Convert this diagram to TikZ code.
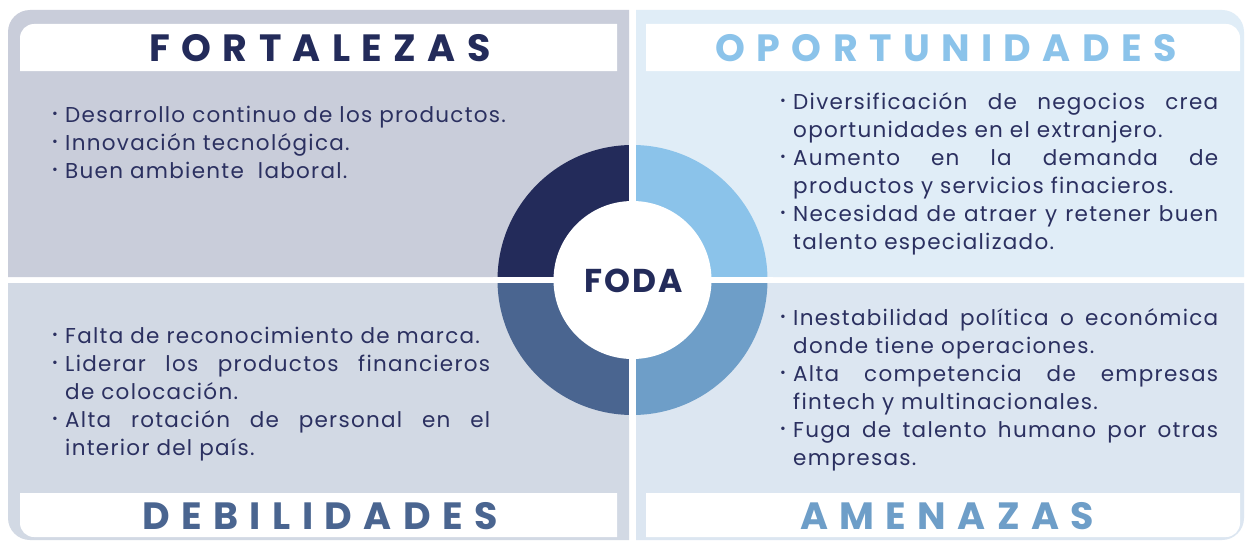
\documentclass[tikz,border=0pt]{standalone}
\usepackage{fontspec}
\setmainfont{Poppins}[LetterSpace=6]
\newfontfamily\titlefont[LetterSpace=30]{Poppins}
\newfontfamily\fodafont[LetterSpace=6]{Poppins}
\definecolor{cTL}{HTML}{232B5A}
\definecolor{cTR}{HTML}{8BC3EA}
\definecolor{cBL}{HTML}{4A6590}
\definecolor{cBR}{HTML}{6E9EC8}
\definecolor{pTL}{HTML}{C9CDDA}
\definecolor{pTR}{HTML}{E0EDF7}
\definecolor{pBL}{HTML}{D2D9E4}
\definecolor{pBR}{HTML}{DCE6F1}
\definecolor{txt}{HTML}{2B3060}
\newcommand{\itm}[1]{\hangindent=13pt\hangafter=1\noindent\makebox[13pt][l]{\raisebox{4pt}{\fontsize{14}{14}\selectfont\textbullet}}#1\par}
\tikzset{
  body/.style={anchor=north west, inner sep=0pt, text=txt, font=\fontsize{21.5}{28}\selectfont, align=justify},
  ttl/.style={font=\titlefont\bfseries\fontsize{38}{40}\selectfont, inner sep=0pt},
}
\begin{document}
\begin{tikzpicture}[x=1pt,y=-1pt]
\useasboundingbox (0,0) rectangle (1246,543);
\fill[white] (0,0) rectangle (1246,543);
% panels
\fill[pTL] (8,277) [rounded corners=22] -- (8,10) [sharp corners] -- (629,10) -- (629,277) -- cycle;
\fill[pTR] (636,10) [rounded corners=22] -- (1244,10) [sharp corners] -- (1244,277) -- (636,277) -- cycle;
\fill[pBL] (8,283) [rounded corners=22] -- (8,540) [sharp corners] -- (629,540) -- (629,283) -- cycle;
\fill[pBR] (636,283) -- (1244,283) [rounded corners=22] -- (1244,540) [sharp corners] -- (636,540) -- cycle;
% title boxes
\fill[white] (20,71) [rounded corners=14] -- (20,24) [sharp corners] -- (617,24) -- (617,71) -- cycle;
\fill[white] (646,24) [rounded corners=14] -- (1240,24) [sharp corners] -- (1240,71) -- (646,71) -- cycle;
\fill[white] (20,493) [rounded corners=14] -- (20,537) [sharp corners] -- (617,537) -- (617,493) -- cycle;
\fill[white] (646,493) -- (1240,493) [rounded corners=14] -- (1240,537) [sharp corners] -- (646,537) -- cycle;
\node[ttl, text=cTL] (tF) at (320,48) {FORTALEZAS};
\node[ttl, text=cTR] (tO) at (946,48) {OPORTUNIDADES};
\node[ttl, text=cBL] (tD) at (320,516) {DEBILIDADES};
\node[ttl, text=cBR] (tA) at (947,516) {AMENAZAS};
% ring
\begin{scope}[shift={(632.5,280)},x=1pt,y=1pt]
\fill[cTL] (0,0) -- (180:135) arc[start angle=180,end angle=90,radius=135] -- cycle;
\fill[cTR] (0,0) -- (90:135) arc[start angle=90,end angle=0,radius=135] -- cycle;
\fill[cBR] (0,0) -- (0:135) arc[start angle=0,end angle=-90,radius=135] -- cycle;
\fill[cBL] (0,0) -- (-90:135) arc[start angle=-90,end angle=-180,radius=135] -- cycle;
\fill[white] (0,0) circle (79);
\fill[white] (-140,-3) rectangle (140,3);
\fill[white] (-3.5,-140) rectangle (3.5,140);
\end{scope}
\node[font=\fodafont\bfseries\fontsize{33}{35}\selectfont, text=cTL, inner sep=0pt] (foda) at (634,281) {FODA};
% texts
\node[body, text width=480pt] (bF) at (52,106) {%
\itm{Desarrollo continuo de los productos.}
\itm{Innovación tecnológica.}
\itm{Buen ambiente\ \ laboral.}};
\node[body, text width=438pt] (bO) at (780,92) {%
\itm{Diversificación de negocios crea\linebreak oportunidades en el extranjero.}
\itm{Aumento en la demanda de\linebreak productos y servicios finacieros.}
\itm{Necesidad de atraer y retener buen\linebreak talento especializado.}};
\node[body, text width=438pt] (bD) at (52,327) {%
\itm{Falta de reconocimiento de marca.}
\itm{Liderar los productos financieros\linebreak de colocación.}
\itm{Alta rotación de personal en el\linebreak interior del país.}};
\node[body, text width=438pt] (bA) at (780,308) {%
\itm{Inestabilidad política o económica\linebreak donde tiene operaciones.}
\itm{Alta competencia de empresas\linebreak fintech y multinacionales.}
\itm{Fuga de talento humano por otras\linebreak empresas.}};
\end{tikzpicture}
\end{document}
